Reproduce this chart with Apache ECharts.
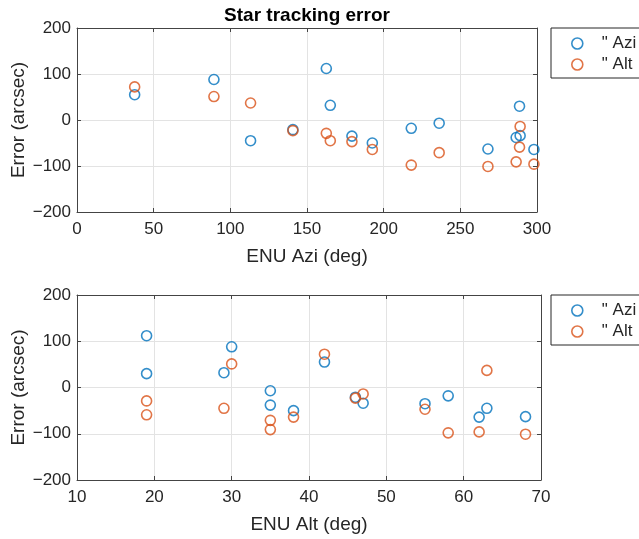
<!DOCTYPE html>
<html>
<head>
<meta charset="utf-8">
<script src="https://cdn.jsdelivr.net/npm/echarts@6/dist/echarts.min.js"></script>
<style>
  html, body { margin: 0; padding: 0; background: #fff; }
  #chart { width: 639px; height: 539px; }
</style>
</head>
<body>
<div id="chart"></div>
<script>
// one entry per star
var aziDeg = [37.6, 89.3, 113.2, 140.8, 162.6, 165.2, 179.3, 192.6, 218, 236.2, 268, 286.4, 288.6, 289, 298];
var altDeg = [42, 30, 63, 46, 19, 29, 55, 38, 58, 35, 68, 35, 19, 47, 62];
var aziErr = [55, 88, -45, -21, 112, 32, -35, -50, -18, -7, -63, -38, 30, -34, -64];
var altErr = [72, 51, 37, -23, -29, -45, -47, -64, -98, -71, -101, -91, -59, -14, -96];

var errTicks = [-200, -100, 0, 100, 200];
var aziTicks = [0, 50, 100, 150, 200, 250, 300];
var altTicks = [10, 20, 30, 40, 50, 60, 70];

var blue = '#0072BD', orange = '#D95319';
var font = "'Liberation Sans', Arial, Helvetica, sans-serif";
var ink = '#262626';

function pairs(xs, ys) {
    return xs.map(function (x, i) { return [x, ys[i]]; });
}
function minus(v) { return String(v).replace('-', '\u2212'); }

function mainAxis(grid, pos, ticks, name, gap, margin) {
    return {
        type: 'value', gridIndex: grid, position: pos,
        min: ticks[0], max: ticks[ticks.length - 1], interval: ticks[1] - ticks[0],
        name: name, nameLocation: 'middle', nameGap: gap, nameMoveOverlap: false,
        nameTextStyle: { fontFamily: font, fontSize: 19, color: ink },
        axisLine: { show: true, onZero: false, lineStyle: { color: '#444', width: 1 } },
        axisTick: { show: true, inside: true, length: 4, lineStyle: { color: '#444' } },
        axisLabel: { fontFamily: font, fontSize: 17, color: ink, margin: margin, formatter: minus },
        splitLine: { show: true, lineStyle: { color: '#e3e3e3', width: 1 } }
    };
}
function boxAxis(grid, pos, ticks) {
    return {
        type: 'value', gridIndex: grid, position: pos,
        min: ticks[0], max: ticks[ticks.length - 1], interval: ticks[1] - ticks[0],
        axisLine: { show: true, onZero: false, lineStyle: { color: '#444', width: 1 } },
        axisTick: { show: true, inside: true, length: 4, lineStyle: { color: '#444' } },
        axisLabel: { show: false },
        splitLine: { show: false }
    };
}
function dots(name, color, xi, yi, data) {
    return {
        name: name, type: 'scatter', xAxisIndex: xi, yAxisIndex: yi,
        symbol: 'circle', symbolSize: 10, data: data,
        itemStyle: { color: 'rgba(0,0,0,0)', borderColor: color, borderWidth: 1.6 }
    };
}
function legendBox(top) {
    return {
        left: 551, top: top, orient: 'vertical',
        itemWidth: 39, itemHeight: 11, itemGap: 4,
        padding: [7, 40, 5, 20],
        borderColor: ink, borderWidth: 1,
        textStyle: { fontFamily: font, fontSize: 17, color: ink },
        data: [
            { name: '" Azi', itemStyle: { color: 'rgba(0,0,0,0)', borderColor: blue, borderWidth: 1.6 } },
            { name: '" Alt', itemStyle: { color: 'rgba(0,0,0,0)', borderColor: orange, borderWidth: 1.6 } }
        ]
    };
}

var chart = echarts.init(document.getElementById('chart'));
chart.setOption({
    backgroundColor: '#fff',
    animation: false,
    title: {
        text: 'Star tracking error', left: 307, top: 6, padding: 0, textAlign: 'center',
        textStyle: { fontFamily: font, fontSize: 19, fontWeight: 'bold', color: '#000' }
    },
    legend: [legendBox(28), legendBox(295)],
    grid: [
        { left: 77, top: 28, width: 460, height: 184, outerBoundsMode: 'none' },
        { left: 77, top: 295, width: 464, height: 185, outerBoundsMode: 'none' }
    ],
    xAxis: [
        mainAxis(0, 'bottom', aziTicks, 'ENU Azi (deg)', 35, 9),
        boxAxis(0, 'top', aziTicks),
        mainAxis(1, 'bottom', altTicks, 'ENU Alt (deg)', 35, 9),
        boxAxis(1, 'top', altTicks)
    ],
    yAxis: [
        mainAxis(0, 'left', errTicks, 'Error (arcsec)', 49, 6),
        boxAxis(0, 'right', errTicks),
        mainAxis(1, 'left', errTicks, 'Error (arcsec)', 49, 6),
        boxAxis(1, 'right', errTicks)
    ],
    series: [
        dots('" Azi', blue, 0, 0, pairs(aziDeg, aziErr)),
        dots('" Alt', orange, 0, 0, pairs(aziDeg, altErr)),
        dots('" Azi', blue, 2, 2, pairs(altDeg, aziErr)),
        dots('" Alt', orange, 2, 2, pairs(altDeg, altErr))
    ]
});
</script>
</body>
</html>
